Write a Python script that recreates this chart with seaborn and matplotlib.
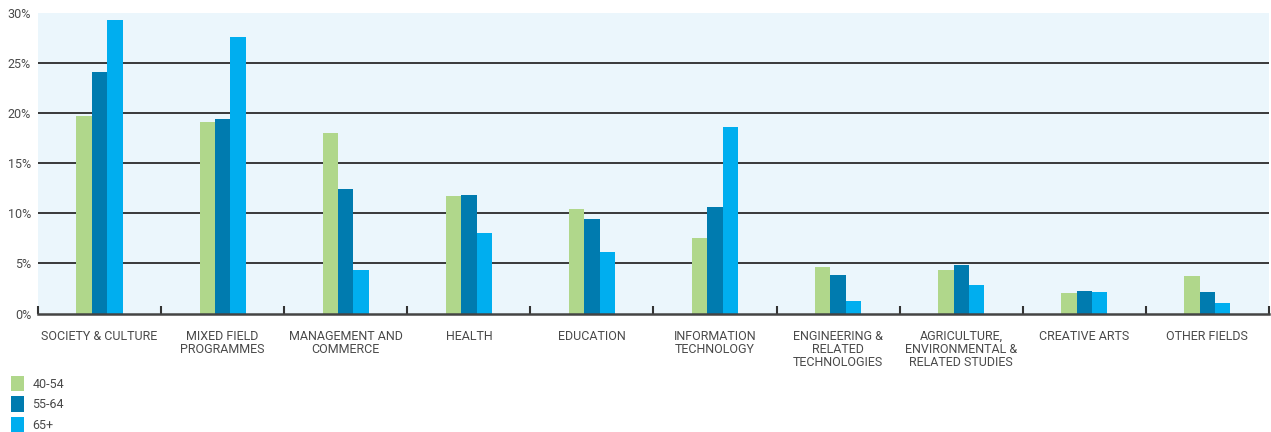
import matplotlib
matplotlib.use("Agg")
import matplotlib.pyplot as plt
from matplotlib.patches import Patch
from matplotlib.ticker import FixedLocator, PercentFormatter
import pandas as pd
import seaborn as sns

# Field of study labels (line breaks as printed under the axis)
fields = [
    "SOCIETY & CULTURE",
    "MIXED FIELD\nPROGRAMMES",
    "MANAGEMENT AND\nCOMMERCE",
    "HEALTH",
    "EDUCATION",
    "INFORMATION\nTECHNOLOGY",
    "ENGINEERING &\nRELATED\nTECHNOLOGIES",
    "AGRICULTURE,\nENVIRONMENTAL &\nRELATED STUDIES",
    "CREATIVE ARTS",
    "OTHER FIELDS",
]
age_groups = ["40-54", "55-64", "65+"]

# Share of each age group studying in each field (%)
share_40_54 = [19.7, 19.1, 18.0, 11.7, 10.4, 7.5, 4.6, 4.3, 2.0, 3.7]
share_55_64 = [24.1, 19.4, 12.4, 11.8, 9.4, 10.6, 3.8, 4.8, 2.2, 2.1]
share_65_plus = [29.3, 27.6, 4.3, 8.0, 6.1, 18.6, 1.2, 2.8, 2.1, 1.0]

y_ticks = [0, 5, 10, 15, 20, 25, 30]

colors = ["#b0d78b", "#007baf", "#00aeef"]

df = pd.DataFrame({
    "field": fields * 3,
    "age": [age_groups[0]] * 10 + [age_groups[1]] * 10 + [age_groups[2]] * 10,
    "share": share_40_54 + share_55_64 + share_65_plus,
})

sns.set_theme(style="white")
plt.rcParams["font.family"] = ["Roboto", "DejaVu Sans"]
text_color = "#4a4a4a"
fs = 9

fig = plt.figure(figsize=(12.71, 4.32), dpi=100)
ax = fig.add_axes([0.0299, 0.2743, 0.9685, 0.6956])
ax.set_facecolor("#ebf6fc")

sns.barplot(
    data=df, x="field", y="share", hue="age", order=fields, hue_order=age_groups,
    palette=colors, width=0.375, saturation=1, errorbar=None, legend=False,
    edgecolor="none", linewidth=0, ax=ax,
)

ax.set_xlim(-0.5, len(fields) - 0.5)
ax.set_ylim(0, 30)
ax.yaxis.set_major_locator(FixedLocator(y_ticks))
ax.yaxis.set_major_formatter(PercentFormatter(decimals=0))
ax.set_axisbelow(True)
for v in y_ticks[1:-1]:
    ax.axhline(v, color="#2a2a2a", lw=1.3, zorder=0.5)

for side in ["top", "right", "left"]:
    ax.spines[side].set_visible(False)
ax.spines["bottom"].set_color("#444444")
ax.spines["bottom"].set_linewidth(1.8)

ax.set_xlabel("")
ax.set_ylabel("")
ax.tick_params(axis="x", which="major", length=0, pad=12, labelsize=fs,
               labelcolor=text_color)
ax.set_xticks(range(len(fields)))
ax.set_xticklabels(fields, linespacing=1.0, va="top")
ax.xaxis.set_minor_locator(FixedLocator([i - 0.5 for i in range(len(fields) + 1)]))
ax.tick_params(axis="x", which="minor", direction="in", length=6, width=1.5,
               color="#333333", bottom=True)
ax.tick_params(axis="y", length=0, pad=5, labelsize=fs, labelcolor=text_color)

handles = [Patch(facecolor=c, edgecolor="none", label=a) for c, a in zip(colors, age_groups)]
fig.legend(
    handles=handles, loc="upper left", bbox_to_anchor=(0.0087, 0.130),
    frameon=False, fontsize=fs, labelcolor=text_color,
    handlelength=1.05, handleheight=1.5, handletextpad=0.65, labelspacing=0.42,
    borderaxespad=0, borderpad=0,
)

fig.savefig("out.png", dpi=100)
